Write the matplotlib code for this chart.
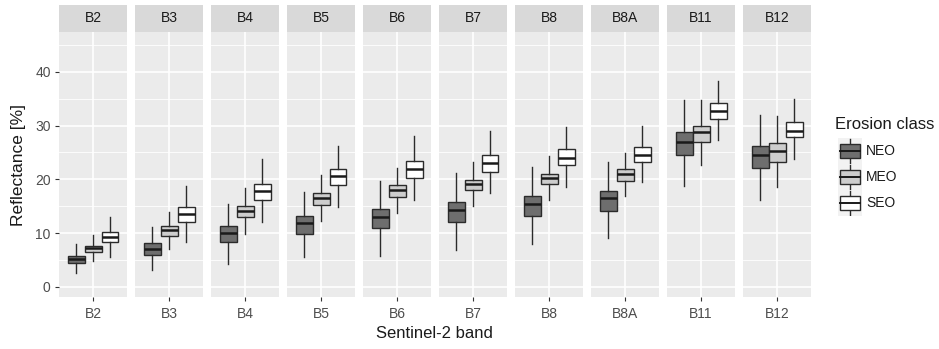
import matplotlib.pyplot as plt
import matplotlib.patches as mpatches
import numpy as np

plt.rcParams['font.family'] = ['Liberation Sans', 'DejaVu Sans']

bands = ['B2', 'B3', 'B4', 'B5', 'B6', 'B7', 'B8', 'B8A', 'B11', 'B12']
classes = ['NEO', 'MEO', 'SEO']
fills = ['#6e6e6e', '#cdcdcd', '#ffffff']

# whisker low, q1, median, q3, whisker high per band, one list per erosion class
neo = [
    [2.5, 4.5, 5.2, 5.7, 7.9],
    [3.1, 5.9, 7.1, 8.1, 11.2],
    [4.3, 8.25, 10.0, 11.3, 15.4],
    [5.5, 9.9, 11.9, 13.2, 17.7],
    [5.8, 11.0, 12.9, 14.4, 19.7],
    [6.9, 12.1, 14.2, 15.8, 21.1],
    [7.9, 13.1, 15.4, 16.8, 22.2],
    [9.1, 14.1, 16.5, 17.9, 23.3],
    [18.8, 24.5, 26.9, 28.8, 34.7],
    [16.2, 22.1, 24.6, 26.2, 31.9],
]
meo = [
    [4.8, 6.5, 7.2, 7.6, 9.6],
    [7.1, 9.5, 10.5, 11.3, 14.0],
    [9.9, 12.9, 14.1, 15.1, 18.3],
    [12.2, 15.3, 16.6, 17.5, 20.8],
    [13.8, 16.7, 18.0, 19.0, 22.1],
    [15.0, 18.0, 19.2, 19.8, 23.3],
    [16.1, 19.1, 20.2, 21.0, 24.3],
    [16.9, 19.7, 21.0, 21.9, 24.9],
    [22.6, 27.0, 28.8, 30.0, 34.7],
    [18.6, 23.3, 25.2, 26.8, 31.8],
]
seo = [
    [5.6, 8.25, 9.3, 10.2, 13.0],
    [8.4, 12.1, 13.6, 14.9, 18.8],
    [12.0, 16.1, 17.8, 19.2, 23.7],
    [14.8, 18.9, 20.6, 21.9, 26.2],
    [16.1, 20.3, 21.9, 23.4, 28.0],
    [17.4, 21.4, 23.1, 24.5, 29.0],
    [18.6, 22.7, 24.0, 25.6, 29.8],
    [19.5, 23.3, 24.6, 26.0, 30.0],
    [27.4, 31.2, 32.7, 34.1, 38.3],
    [23.7, 27.8, 29.0, 30.6, 34.9],
]
series = [neo, meo, seo]

W, H = 939, 349
fig = plt.figure(figsize=(W / 100, H / 100), dpi=100)

panel_bg = '#ebebeb'
strip_bg = '#d9d9d9'
text_col = '#4d4d4d'

left0, pw, gap = 59, 68, 8
top, bottom, strip_h = 32, 297, 27

for i, band in enumerate(bands):
    x0 = left0 + i * (pw + gap)
    ax = fig.add_axes([x0 / W, 1 - bottom / H, pw / W, (bottom - top) / H])
    ax.set_facecolor(panel_bg)
    for s in ax.spines.values():
        s.set_visible(False)
    ax.set_xlim(0.4, 1.6)
    ax.set_ylim(-1.9, 47.4)
    for y in [5, 15, 25, 35, 45]:
        ax.axhline(y, color='white', lw=0.6, zorder=0)
    for y in [0, 10, 20, 30, 40]:
        ax.axhline(y, color='white', lw=1.2, zorder=0)
    ax.axvline(1.0, color='white', lw=1.2, zorder=0)

    for k, ser in enumerate(series):
        lo, q1, med, q3, hi = ser[i]
        stats = [dict(whislo=lo, q1=q1, med=med, q3=q3, whishi=hi, fliers=[])]
        ax.bxp(stats, positions=[0.7 + 0.3 * k], widths=0.3, showcaps=False,
               patch_artist=True,
               boxprops=dict(facecolor=fills[k], edgecolor='#2b2b2b', lw=1.0),
               medianprops=dict(color='#1a1a1a', lw=1.8),
               whiskerprops=dict(color='#2b2b2b', lw=1.0))
    ax.set_xlim(0.4, 1.6)
    ax.set_xticks([1.0])
    ax.set_xticklabels([band], fontsize=10, color=text_col)
    ax.tick_params(axis='x', length=3, color='#333333', pad=4)
    if i == 0:
        ax.set_yticks([0, 10, 20, 30, 40])
        ax.set_yticklabels(['0', '10', '20', '30', '40'], fontsize=10, color=text_col)
        ax.tick_params(axis='y', length=3, color='#333333', pad=3)
    else:
        ax.set_yticks([])

    sax = fig.add_axes([x0 / W, 1 - top / H, pw / W, (strip_h) / H])
    sax.set_facecolor(strip_bg)
    sax.set_xticks([])
    sax.set_yticks([])
    for s in sax.spines.values():
        s.set_visible(False)
    sax.text(0.5, 0.5, band, ha='center', va='center', fontsize=10, color='#1a1a1a')

fig.text(19 / W, 1 - 164.5 / H, 'Reflectance [%]', rotation=90, ha='center',
         va='center', fontsize=12.5, color='#1a1a1a')
fig.text(434 / W, 1 - 333 / H, 'Sentinel-2 band', ha='center', va='center',
         fontsize=12, color='#1a1a1a')

# legend
fig.text(835 / W, 1 - 125 / H, 'Erosion class', ha='left', va='center',
         fontsize=12, color='#1a1a1a')
key_h = 26
for k, name in enumerate(classes):
    ky = 138 + k * key_h
    kax = fig.add_axes([838 / W, 1 - (ky + key_h) / H, 24 / W, key_h / H])
    kax.set_facecolor('#f2f2f2')
    kax.set_xlim(0, 1)
    kax.set_ylim(0, 1)
    kax.set_xticks([])
    kax.set_yticks([])
    for s in kax.spines.values():
        s.set_visible(False)
    kax.plot([0.5, 0.5], [0.05, 0.95], color='#2b2b2b', lw=1.0)
    kax.add_patch(mpatches.Rectangle((0.1, 0.22), 0.8, 0.56, facecolor=fills[k],
                                     edgecolor='#2b2b2b', lw=1.0, zorder=3))
    kax.plot([0.1, 0.9], [0.5, 0.5], color='#1a1a1a', lw=1.4, zorder=4)
    fig.text(866 / W, 1 - (ky + key_h / 2) / H, name, ha='left', va='center',
             fontsize=10, color='#1a1a1a')

fig.savefig('out.png', dpi=100)
